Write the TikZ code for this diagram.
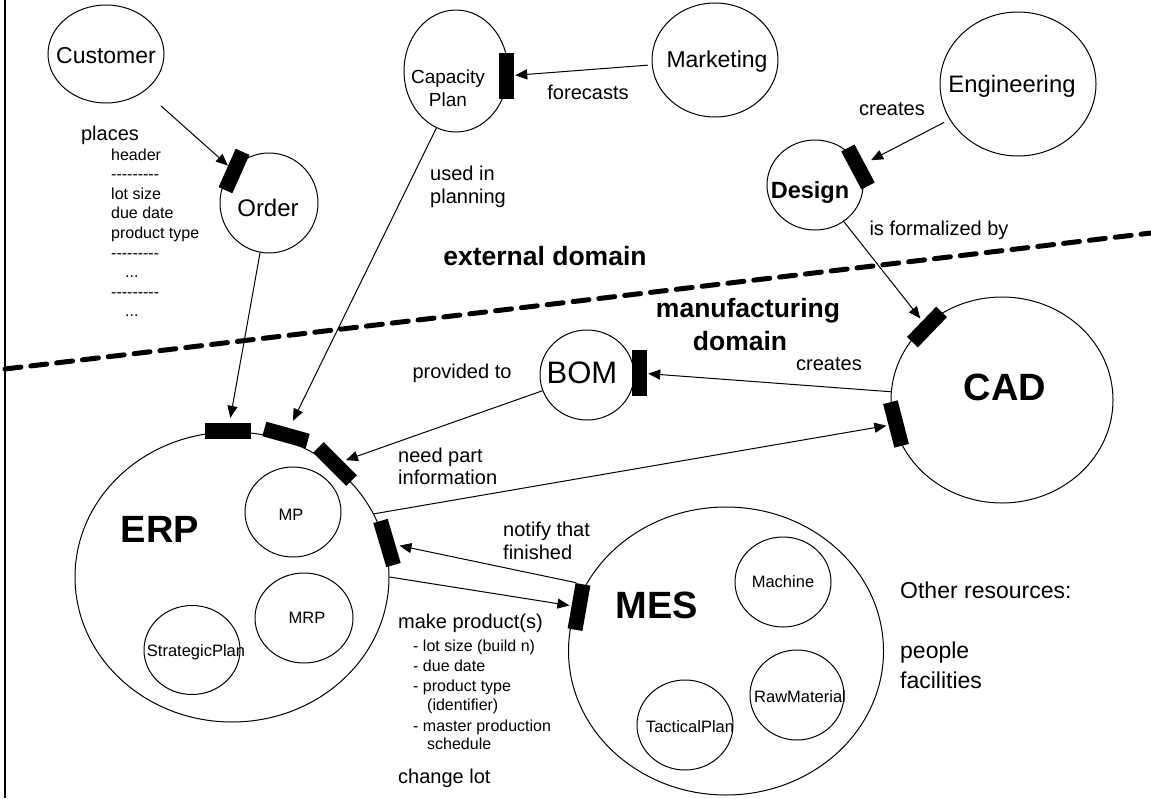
\documentclass[tikz,border=0pt]{standalone}
\usepackage{fontspec}
\setmainfont{Liberation Sans}
\usetikzlibrary{shapes.geometric,arrows.meta}

% a row of separate hyphens (kerns keep them from joining into dashes)
\newcommand{\hy}{-\kern0pt}
\newcommand{\hyrow}{\hy\hy\hy\hy\hy\hy\hy\hy\hy}
\newcommand{\dotrow}{...}

\tikzset{
  ent/.style={draw, ellipse, line width=1pt, inner sep=0pt},
  port/.style={rectangle, fill=black, inner sep=0pt, minimum height=15pt},
  flow/.style={line width=1pt, -{Triangle[length=12pt,width=10pt]}},
  divider/.style={line width=5pt, dash pattern=on 16pt off 10pt, line cap=round},
  txt/.style={inner sep=0pt, anchor=base},
  txtl/.style={inner sep=0pt, anchor=base west},
  big/.style={font=\fontsize{23}{27}\selectfont},
  note/.style={font=\fontsize{20}{24}\selectfont},
  small/.style={font=\fontsize{16}{19}\selectfont},
  sub/.style={font=\fontsize{16.5}{19}\selectfont},
  heavy/.style={font=\fontsize{38}{44}\selectfont\bfseries},
  domainfont/.style={font=\fontsize{26.5}{31}\selectfont\bfseries},
}

\begin{document}
\begin{tikzpicture}[x=1pt,y=-1pt]
\useasboundingbox (0,0) rectangle (1151,798);
\draw[line width=2pt] (5,0) -- (5,798);

% boundary between the two domains
\coordinate (divL) at (5,369);
\coordinate (divR) at (1151,233);
\draw[divider] (divL) -- (divR);
\node[txt, domainfont] (extdom) at (545,265) {external domain};
\node[txt, domainfont] (mfgdom1) at (748,317) {manufacturing};
\node[txt, domainfont] (mfgdom2) at (740,350) {domain};

% external entities
\node[ent, minimum width=116pt, minimum height=98pt] (cust) at (106,54) {};
\node[txt, big] (custtxt) at (106,63) {Customer};
\node[ent, minimum width=98pt, minimum height=100pt] (order) at (269,203) {};
\node[txt, font=\fontsize{24}{28}\selectfont] (ordertxt) at (268,216) {Order};
\node[ent, minimum width=104pt, minimum height=122pt] (cap) at (456,71) {};
\node[txt, font=\fontsize{19}{22}\selectfont] (captxt1) at (448,83.5) {Capacity};
\node[txt, font=\fontsize{19}{22}\selectfont] (captxt2) at (448,106) {Plan};
\node[ent, minimum width=126pt, minimum height=114pt] (market) at (715,60) {};
\node[txt, big] (markettxt) at (717,67) {Marketing};
\node[ent, minimum width=156pt, minimum height=144pt] (eng) at (1018,84) {};
\node[txt, font=\fontsize{23.8}{28}\selectfont] (engtxt) at (1012,92) {Engineering};
\node[ent, minimum width=96pt, minimum height=90pt] (design) at (815,185) {};
\node[txt, font=\fontsize{23.5}{28}\selectfont\bfseries] (designtxt) at (810,198) {Design};

% manufacturing systems
\node[ent, minimum width=222pt, minimum height=206pt] (cad) at (1002,400) {};
\node[txt, heavy] (cadtxt) at (1005,400) {CAD};
\node[ent, minimum width=94pt, minimum height=90pt] (bom) at (587,375) {};
\node[txt, font=\fontsize{31}{36}\selectfont] (bomtxt) at (582,383) {BOM};

\node[ent, minimum width=314pt, minimum height=290pt] (erp) at (232,577) {};
\node[txt, heavy] (erptxt) at (160,542) {ERP};
\node[ent, minimum width=96pt, minimum height=90pt] (mp) at (293,512) {};
\node[txt, sub] (mptxt) at (291,520) {MP};
\node[ent, minimum width=98pt, minimum height=90pt] (mrp) at (304,618) {};
\node[txt, sub] (mrptxt) at (307,623) {MRP};
\node[ent, minimum width=96pt, minimum height=89pt] (strat) at (192,650) {};
\node[txt, sub] (strattxt) at (196,656) {StrategicPlan};

\node[ent, minimum width=315pt, minimum height=288pt] (mes) at (726,651) {};
\node[txt, heavy] (mestxt) at (657,618) {MES};
\node[ent, minimum width=96pt, minimum height=90pt] (machine) at (783,582) {};
\node[txt, sub] (machinetxt) at (783,587) {Machine};
\node[ent, minimum width=94pt, minimum height=90pt] (raw) at (797,695) {};
\node[txt, sub] (rawtxt) at (800,702) {RawMaterial};
\node[ent, minimum width=96pt, minimum height=90pt] (tact) at (685,725) {};
\node[txt, sub] (tacttxt) at (690,732) {TacticalPlan};

% interface ports
\node[port, rotate=66, minimum width=42pt] (orderport) at (234,171) {};
\node[port, rotate=90, minimum width=46pt] (capport) at (506,76) {};
\node[port, rotate=-62, minimum width=43pt] (designport) at (858,167) {};
\node[port, rotate=46, minimum width=42pt] (cadport1) at (927,327) {};
\node[port, rotate=-75.6, minimum width=45pt] (cadport2) at (896,424) {};
\node[port, rotate=90, minimum width=46pt] (bomport) at (639,373) {};
\node[port, minimum width=46pt, minimum height=16pt] (erpport1) at (228,431) {};
\node[port, rotate=-15.6, minimum width=45pt] (erpport2) at (286,435) {};
\node[port, rotate=-45, minimum width=47pt] (erpport3) at (335,464) {};
\node[port, rotate=-73.5, minimum width=46pt] (erpport4) at (387,543) {};
\node[port, rotate=80, minimum width=46pt] (mesport) at (579,607) {};

% flows
\draw[flow, shorten <=22pt] (cust.-44) -- (orderport);
\draw[flow, shorten <=4pt, shorten >=1.5pt] (market) -- (capport);
\draw[flow, shorten >=8pt] (cap.-109) -- (erpport2);
\draw[flow, shorten >=5pt] (order) -- (erpport1);
\draw[flow, shorten <=6pt, shorten >=7pt] (eng) -- (designport);
\draw[flow, shorten >=3pt] (design) -- (cadport1);
\draw[flow, shorten >=1.5pt] (cad) -- (bomport);
\draw[flow, shorten >=3pt] (bom) -- (erpport3);
\draw[flow, shorten >=2pt] (erp.24) -- (cadport2);
\draw[flow, shorten <=7pt, shorten >=4pt] (mesport.east) -- (erpport4);
\draw[flow, shorten >=2pt] (erp.0) -- (mesport);

% flow labels
\node[txt, note] (places) at (110,140) {places};
\foreach \i/\t/\x/\y in {1/header/111/160, 2/\hyrow/111/179.6, 3/lot size/111/199.2,
    4/due date/111/218.8, 5/product type/111/238.4, 6/\hyrow/111/258,
    7/\dotrow/125/277.6, 8/\hyrow/111/297.2, 9/\dotrow/125/316.8}
  \node[txtl, small] (ol\i) at (\x,\y) {\t};
\node[txt, note] (forecasts) at (588,99) {forecasts};
\node[txtl, note] (used1) at (430,180) {used in};
\node[txtl, note] (used2) at (430,203) {planning};
\node[txt, note] (creates1) at (892,115) {creates};
\node[txt, note] (formal) at (939,235) {is formalized by};
\node[txt, note] (creates2) at (829,370) {creates};
\node[txt, note] (provided) at (462,378) {provided to};
\node[txtl, note] (need1) at (398,462) {need part};
\node[txtl, note] (need2) at (398,484) {information};
\node[txtl, note] (notify1) at (503,536) {notify that};
\node[txtl, note] (notify2) at (503,559) {finished};
\node[txtl, note] (make) at (398,628) {make product(s)};
\foreach \i/\t/\x/\y in {1/- lot size (build n)/413/651, 2/- due date/413/671,
    3/- product type/413/691, 4/(identifier)/427/710,
    5/- master production/413/731, 6/schedule/427/749}
  \node[txtl, small] (ml\i) at (\x,\y) {\t};
\node[txtl, note] (change) at (398,783) {change lot};

% other resources
\node[txtl, big] (other) at (900,598) {Other resources:};
\node[txtl, big] (people) at (900,658) {people};
\node[txtl, big] (facil) at (900,688) {facilities};
\end{tikzpicture}
\end{document}
